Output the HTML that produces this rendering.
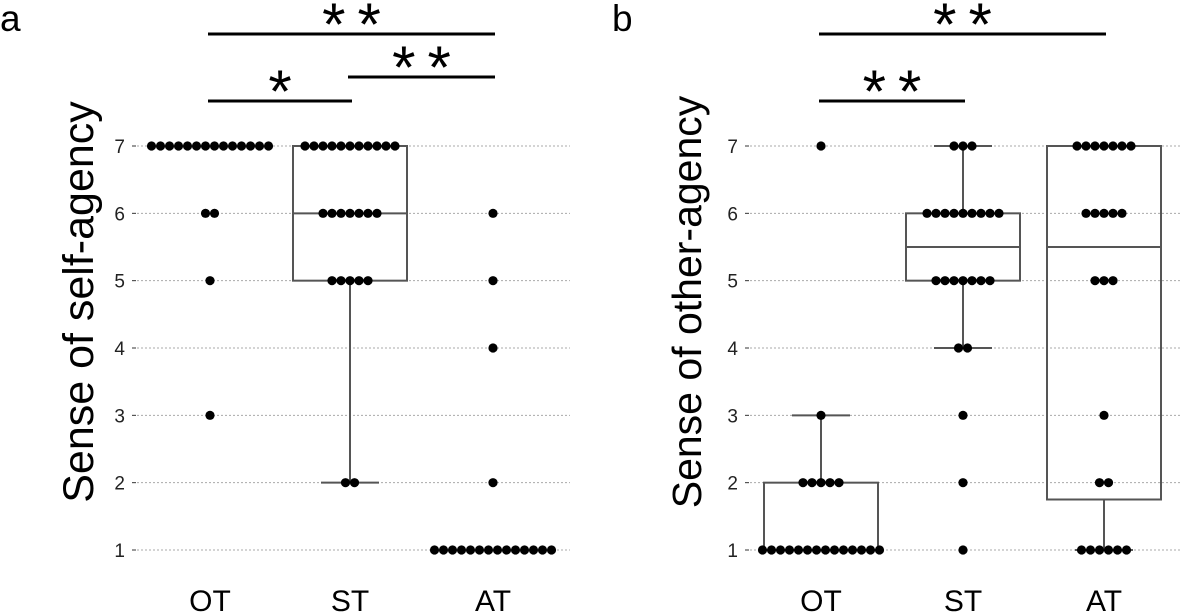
<!DOCTYPE html>
<html><head><meta charset="utf-8"><style>
body{margin:0;background:#fff;}
svg{display:block;font-family:"Liberation Sans","DejaVu Sans",sans-serif;}
</style></head><body>
<svg id="fig" width="1181" height="614" viewBox="0 0 1181 614"></svg>
<script>
const groups = ["OT","ST","AT"];
const selfOT = [7,7,7,7,7,7,7,7,7,7,7,7,7,7,6,6,5,3];
const selfST = [7,7,7,7,7,7,7,7,7,7,7,6,6,6,6,6,6,6,5,5,5,5,5,2,2];
const selfAT = [6,5,4,2,1,1,1,1,1,1,1,1,1,1,1,1,1,1];
const otherOT = [7,3,2,2,2,2,2,1,1,1,1,1,1,1,1,1,1,1,1,1,1];
const otherST = [7,7,7,6,6,6,6,6,6,6,6,6,5,5,5,5,5,5,5,4,4,3,2,1];
const otherAT = [7,7,7,7,7,7,7,6,6,6,6,6,5,5,5,3,2,2,1,1,1,1,1,1];
const yTicks = [1,2,3,4,5,6,7];
const sigA = [{from:0,to:2,label:"**",level:2},{from:1,to:2,label:"**",level:1},{from:0,to:1,label:"*",level:0}];
const sigB = [{from:0,to:2,label:"**",level:2},{from:0,to:1,label:"**",level:0}];

const NS="http://www.w3.org/2000/svg";
const svg=document.getElementById('fig');
function mk(tag,attrs,parent){const e=document.createElementNS(NS,tag);for(const k in attrs)e.setAttribute(k,attrs[k]);(parent||svg).appendChild(e);return e;}
function yScale(v){return 550-(v-1)*(404/6);}
function quant(arr,p){const s=[...arr].sort((a,b)=>a-b);const h=(s.length-1)*p;const lo=Math.floor(h),hi=Math.ceil(h);return s[lo]+(s[hi]-s[lo])*(h-lo);}

function panel(cfg){
  const g=mk('g',{});
  
  
  const t=mk('text',{x:cfg.letterX,y:31,'font-size':37,fill:'#000'},g);t.textContent=cfg.letter;
  
  const yt=mk('text',{x:0,y:0,'font-size':cfg.titleSize,fill:'#000','text-anchor':'middle',transform:`translate(${cfg.titleX},302) rotate(-90)`},g);
  yt.textContent=cfg.title;
  
  yTicks.forEach(v=>{
    const y=yScale(v);
    const gl=mk('line',{x1:cfg.gridX0,x2:cfg.gridX1,y1:y,y2:y,stroke:'#aaa','stroke-width':1,'stroke-dasharray':'2,2'},g);
    
    mk('line',{x1:cfg.gridX0-5,x2:cfg.gridX0-1,y1:y,y2:y,stroke:'#333','stroke-width':1},g);
    const tl=mk('text',{x:cfg.gridX0-12,y:y+7,'font-size':19,'text-anchor':'end',fill:'#222'},g);
    tl.textContent=v;
    
  });
  cfg.data.forEach((d,i)=>{
    const cx=cfg.centers[i];
    const q1=quant(d,0.25),med=quant(d,0.5),q3=quant(d,0.75),iqr=q3-q1;
    const lo=Math.min(...d.filter(v=>v>=q1-1.5*iqr)),hi=Math.max(...d.filter(v=>v<=q3+1.5*iqr));
    const bw=57,cw=29;
    if(hi>q3){mk('line',{x1:cx,x2:cx,y1:yScale(q3),y2:yScale(hi),stroke:'#555','stroke-width':2},g);mk('line',{x1:cx-cw,x2:cx+cw,y1:yScale(hi),y2:yScale(hi),stroke:'#555','stroke-width':2},g);}
    if(lo<q1){mk('line',{x1:cx,x2:cx,y1:yScale(q1),y2:yScale(lo),stroke:'#555','stroke-width':2},g);mk('line',{x1:cx-cw,x2:cx+cw,y1:yScale(lo),y2:yScale(lo),stroke:'#555','stroke-width':2},g);}
    if(q3>q1){
      const b=mk('rect',{x:cx-bw,y:yScale(q3),width:2*bw,height:yScale(q1)-yScale(q3),fill:'none',stroke:'#555','stroke-width':2},g);
      
      mk('line',{x1:cx-bw,x2:cx+bw,y1:yScale(med),y2:yScale(med),stroke:'#555','stroke-width':2},g);
    }
    const counts={};d.forEach(v=>counts[v]=(counts[v]||0)+1);
    Object.keys(counts).forEach(k=>{
      const n=counts[k];
      for(let j=0;j<n;j++){
        const x=cx+(j-(n-1)/2)*9;
        const c=mk('circle',{cx:x,cy:yScale(+k),r:4.6,fill:'#000'},g);
        
        
      }
    });
    const xl=mk('text',{x:cx,y:611,'font-size':30,'text-anchor':'middle',fill:'#000'},g);
    xl.textContent=groups[i];
    
  });
  const lvY=[101,77,34];
  cfg.sig.forEach(s=>{
    const y=lvY[s.level];
    const l=mk('line',{x1:cfg.centers[s.from]-2,x2:cfg.centers[s.to]+2,y1:y,y2:y,stroke:'#000','stroke-width':3},g);
    
    const ls=s.label.length>1?12:0;
    const st=mk('text',{x:(cfg.centers[s.from]+cfg.centers[s.to])/2+ls/2,y:y+11,'font-size':60,'letter-spacing':ls,'text-anchor':'middle',fill:'#000'},g);
    st.textContent=s.label;
    
  });
}
panel({name:'panel-a',letter:'a',letterX:0,title:'Sense of self-agency',titleSize:43,titleX:93,gridX0:137,gridX1:570,centers:[210,350,493],data:[selfOT,selfST,selfAT],sig:sigA});
panel({name:'panel-b',letter:'b',letterX:612,title:'Sense of other-agency',titleSize:41,titleX:701,gridX0:750,gridX1:1181,centers:[821,963,1104],data:[otherOT,otherST,otherAT],sig:sigB});
</script>
</body></html>
